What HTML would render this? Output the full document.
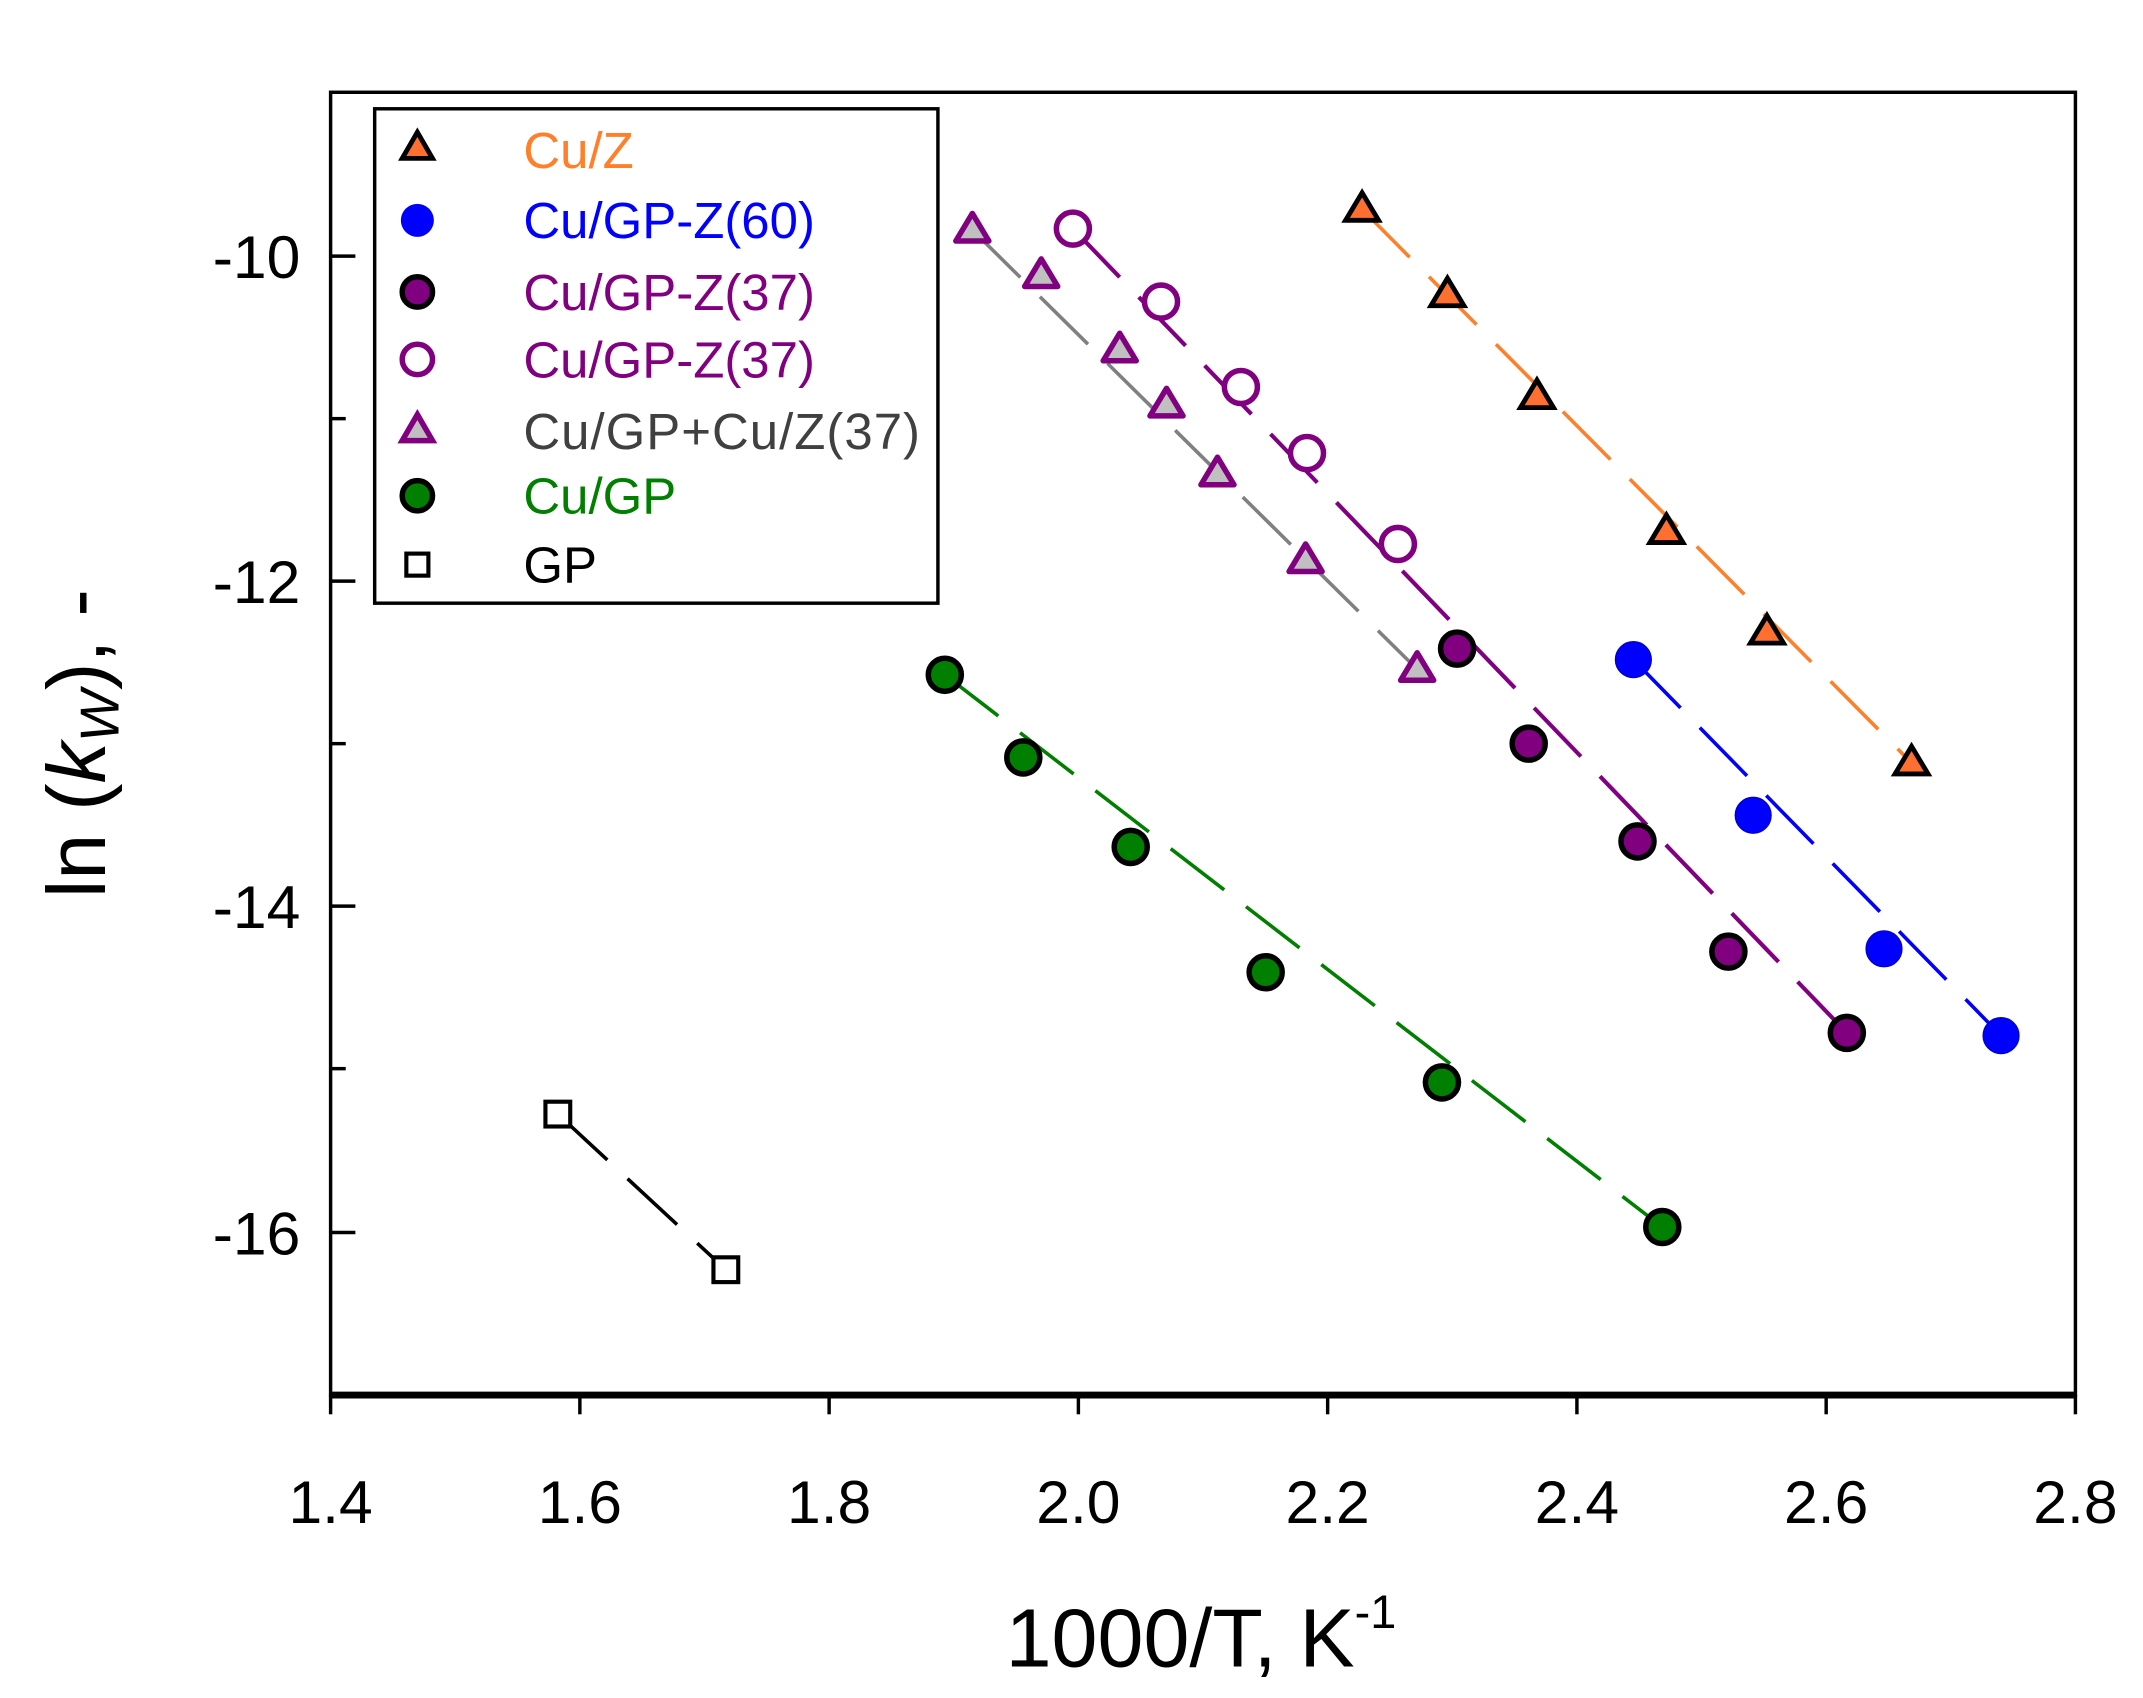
<!DOCTYPE html>
<html><head><meta charset="utf-8"><style>html,body{margin:0;padding:0;background:#fff}svg{display:block}</style></head>
<body>
<svg width="2143" height="1698" viewBox="0 0 1556 1233" xmlns="http://www.w3.org/2000/svg" font-family="Liberation Sans, Arial, sans-serif">
<rect width="1556" height="1233" fill="#fff"/>
<g fill="none" stroke-width="2.6" stroke-dasharray="49,20">
<line x1="989" y1="152" x2="1388" y2="554" stroke="#ff7f2a"/>
<line x1="1186" y1="479" x2="1453" y2="752" stroke="#0000ff"/>
<line x1="779" y1="166" x2="1341" y2="750" stroke="#800080" stroke-width="3"/>
<line x1="706" y1="167" x2="1029" y2="486" stroke="#808080"/>
<line x1="686" y1="490" x2="1207" y2="891" stroke="#007f00"/>
<line x1="405" y1="809" x2="527" y2="922" stroke="#000"/>
</g>
<g stroke="#000" stroke-width="3.5" fill="#ff7030">
<path d="M989,140 l12,20 h-24z"/><path d="M1051,202 l12,20 h-24z"/><path d="M1116,276 l12,20 h-24z"/>
<path d="M1210,374 l12,20 h-24z"/><path d="M1283,447 l12,20 h-24z"/><path d="M1388,542 l12,20 h-24z"/>
</g>
<g fill="#0000ff" stroke="#0000cc" stroke-width="1">
<circle cx="1186" cy="479" r="13"/><circle cx="1273" cy="592" r="13"/><circle cx="1368" cy="689" r="13"/><circle cx="1453" cy="752" r="13"/>
</g>
<g fill="#800080" stroke="#000" stroke-width="4">
<circle cx="1058" cy="471" r="12"/><circle cx="1110" cy="540" r="12"/><circle cx="1189" cy="611" r="12"/><circle cx="1255" cy="691" r="12"/><circle cx="1341" cy="750" r="12"/>
</g>
<g fill="#fff" stroke="#800080" stroke-width="4">
<circle cx="779" cy="166" r="12"/><circle cx="843" cy="219" r="12"/><circle cx="901" cy="281" r="12"/><circle cx="949" cy="329" r="12"/><circle cx="1015" cy="395" r="12"/>
</g>
<g fill="#c0c0c0" stroke="#800080" stroke-width="4" stroke-linejoin="round">
<path d="M706,155 l12,20 h-24z"/><path d="M756,188 l12,20 h-24z"/><path d="M813,242 l12,20 h-24z"/><path d="M847,282 l12,20 h-24z"/>
<path d="M884,332 l12,20 h-24z"/><path d="M948,395 l12,20 h-24z"/><path d="M1029,474 l12,20 h-24z"/>
</g>
<g fill="#007f00" stroke="#000" stroke-width="4">
<circle cx="686" cy="490" r="12"/><circle cx="743" cy="550" r="12"/><circle cx="821" cy="615" r="12"/><circle cx="919" cy="706" r="12"/><circle cx="1047" cy="786" r="12"/><circle cx="1207" cy="891" r="12"/>
</g>
<g fill="#fff" stroke="#000" stroke-width="3">
<rect x="396" y="800" width="18" height="18"/><rect x="518" y="913" width="18" height="18"/>
</g>
<rect x="240" y="67" width="1267" height="946" fill="none" stroke="#000" stroke-width="2.5"/>
<line x1="239" y1="1013" x2="1508" y2="1013" stroke="#000" stroke-width="5"/>
<g stroke="#000" stroke-width="2.5">
<line x1="240" y1="1013" x2="240" y2="1027"/><line x1="421" y1="1013" x2="421" y2="1027"/><line x1="602" y1="1013" x2="602" y2="1027"/>
<line x1="783" y1="1013" x2="783" y2="1027"/><line x1="964" y1="1013" x2="964" y2="1027"/><line x1="1145" y1="1013" x2="1145" y2="1027"/>
<line x1="1326" y1="1013" x2="1326" y2="1027"/><line x1="1507" y1="1013" x2="1507" y2="1027"/>
<line x1="240" y1="186" x2="258" y2="186"/><line x1="240" y1="422" x2="258" y2="422"/><line x1="240" y1="658" x2="258" y2="658"/><line x1="240" y1="895" x2="258" y2="895"/>
<line x1="240" y1="304" x2="251" y2="304"/><line x1="240" y1="540" x2="251" y2="540"/><line x1="240" y1="776" x2="251" y2="776"/>
</g>
<g font-size="44" text-anchor="middle" fill="#000">
<text x="240" y="1106">1.4</text><text x="421" y="1106">1.6</text><text x="602" y="1106">1.8</text><text x="783" y="1106">2.0</text>
<text x="964" y="1106">2.2</text><text x="1145" y="1106">2.4</text><text x="1326" y="1106">2.6</text><text x="1507" y="1106">2.8</text>
</g>
<g font-size="44" text-anchor="end" fill="#000">
<text x="218" y="202">-10</text><text x="218" y="438">-12</text><text x="218" y="674">-14</text><text x="218" y="911">-16</text>
</g>
<text x="872" y="1210" font-size="60" text-anchor="middle">1000/T, K<tspan font-size="34" dy="-28">-1</tspan></text>
<text transform="translate(76,540) rotate(-90)" font-size="60" text-anchor="middle">ln (<tspan font-style="italic">k</tspan><tspan font-style="italic" font-size="40" dy="10">W</tspan><tspan dy="-10">), -</tspan></text>
<rect x="272" y="79" width="409" height="359" fill="#fff" stroke="#000" stroke-width="2.5"/>
<path d="M303,96 l11,19 h-22z" fill="#ff7030" stroke="#000" stroke-width="3.5"/>
<circle cx="303" cy="160" r="12" fill="#0000ff"/>
<circle cx="303" cy="212" r="11" fill="#800080" stroke="#000" stroke-width="4"/>
<circle cx="303" cy="261" r="11" fill="#fff" stroke="#800080" stroke-width="4"/>
<path d="M303,301 l11,19 h-22z" fill="#c0c0c0" stroke="#800080" stroke-width="4"/>
<circle cx="303" cy="360" r="11" fill="#007f00" stroke="#000" stroke-width="4"/>
<rect x="295" y="402" width="16" height="16" fill="#fff" stroke="#000" stroke-width="3"/>
<g font-size="37">
<text x="380" y="122" fill="#ff7f2a">Cu/Z</text>
<text x="380" y="173" fill="#0000ff">Cu/GP-Z(60)</text>
<text x="380" y="225" fill="#800080">Cu/GP-Z(37)</text>
<text x="380" y="274" fill="#800080">Cu/GP-Z(37)</text>
<text x="380" y="326" fill="#404040" textLength="288">Cu/GP+Cu/Z(37)</text>
<text x="380" y="373" fill="#007f00">Cu/GP</text>
<text x="380" y="423" fill="#000">GP</text>
</g>
</svg>
</body></html>
